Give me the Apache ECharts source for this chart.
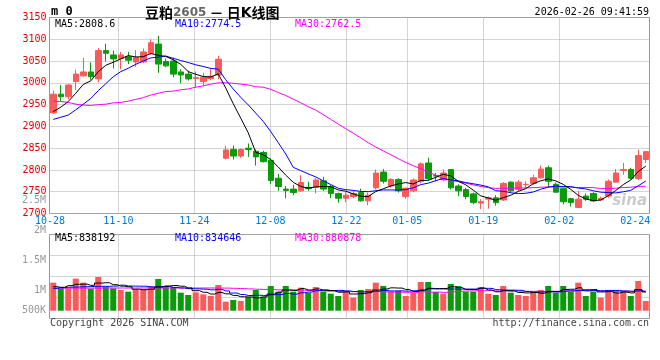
<!DOCTYPE html>
<html><head><meta charset="utf-8">
<script src="https://cdn.jsdelivr.net/npm/echarts@6/dist/echarts.min.js"></script>
<style>html,body{margin:0;padding:0;background:#fff}#c{width:660px;height:360px}</style>
</head><body><div id="c"></div>
<script>
const dates = ['10-28','10-29','10-30','10-31','11-03','11-04','11-05','11-06','11-07','11-10',
'11-11','11-12','11-13','11-14','11-17','11-18','11-19','11-20','11-21','11-24',
'11-25','11-26','11-27','11-28','12-01','12-02','12-03','12-04','12-05','12-08',
'12-09','12-10','12-11','12-12','12-15','12-16','12-17','12-18','12-19','12-22',
'12-23','12-24','12-25','12-26','12-29','12-30','12-31','01-05','01-06','01-07',
'01-08','01-09','01-12','01-13','01-14','01-15','01-16','01-19','01-20','01-21',
'01-22','01-23','01-26','01-27','01-28','01-29','01-30','02-02','02-03','02-04',
'02-05','02-06','02-09','02-10','02-11','02-12','02-13','02-24','02-25','02-26'];
const labelDates = ['10-28','11-10','11-24','12-08','12-22','01-05','01-19','02-02','02-24'];
const gridDates = ['11-10','11-24','12-08','12-22','01-05','01-19','02-02'];

const open = [2931,2974,2968,3003,3016,3025,3009,3074,3064,3056,
3060,3048,3048,3068,3089,3049,3050,3025,3020,3010,
3003,3010,3018,2827,2847,2832,2850,2843,2840,2822,
2781,2756,2756,2752,2760,2760,2775,2762,2746,2735,
2739,2748,2729,2759,2795,2763,2778,2739,2752,2774,
2816,2787,2777,2801,2763,2755,2745,2724,2733,2736,
2731,2772,2755,2766,2769,2782,2805,2767,2757,2734,
2714,2740,2746,2731,2740,2772,2799,2801,2780,2824];
const close = [2974,2968,2995,3020,3025,3014,3074,3068,3055,3064,
3052,3058,3071,3092,3043,3039,3020,3018,3009,3012,
3013,3015,3054,2846,2832,2847,2847,2830,2819,2776,
2762,2753,2748,2771,2757,2777,2756,2746,2735,2742,
2746,2729,2742,2793,2774,2778,2752,2758,2777,2814,
2780,2786,2793,2759,2752,2739,2725,2727,2736,2725,
2769,2752,2772,2767,2782,2802,2774,2749,2727,2725,
2733,2733,2729,2735,2774,2793,2801,2781,2833,2842];
const low = [2929,2958,2962,2983,3014,3007,3001,3049,3033,3031,
3043,3037,3045,3064,3023,3036,3013,2999,3005,2989,
2993,3006,3008,2824,2824,2828,2830,2810,2817,2768,
2752,2735,2742,2750,2752,2746,2752,2735,2725,2726,
2735,2727,2719,2755,2769,2759,2748,2734,2749,2769,
2776,2774,2774,2755,2740,2733,2721,2710,2711,2718,
2729,2749,2752,2759,2766,2780,2759,2748,2721,2716,
2713,2729,2727,2729,2736,2771,2789,2778,2777,2816];
const high = [2982,2995,2997,3030,3057,3047,3080,3090,3074,3071,
3071,3075,3079,3100,3108,3056,3058,3031,3028,3026,
3023,3033,3062,2855,2856,2849,2861,2847,2844,2827,
2791,2763,2766,2788,2773,2781,2784,2766,2748,2749,
2752,2757,2748,2801,2802,2781,2781,2760,2780,2817,
2828,2793,2801,2802,2767,2759,2748,2733,2739,2742,
2772,2774,2777,2774,2789,2810,2810,2771,2759,2736,
2752,2746,2749,2739,2778,2802,2816,2805,2846,2843];

const ma5 = [2934,2944,2957,2976,2996.4,3004.4,3025.6,3040.2,3047.2,3055,
3062.6,3059.4,3060,3067.4,3063.2,3060.6,3053,3042.4,3025.8,3019.6,
3014.4,3013.4,3020.6,2988,2952,2918.8,2885.2,2840.4,2835,2823.8,
2806.8,2788,2771.6,2762,2758.2,2761.2,2761.8,2761.4,2754.2,2751.2,
2745,2739.6,2738.8,2750.4,2756.8,2763.2,2767.8,2771,2767.8,2775.8,
2776.2,2783,2790,2786.4,2774,2765.8,2753.6,2740.4,2735.8,2730.4,
2736.4,2741.8,2750.8,2757,2768.4,2775,2779.4,2774.8,2766.8,2755.4,
2741.6,2733.4,2729.4,2731,2740.8,2752.8,2766.4,2776.8,2796.4,2808.6];
const ma10 = [2916,2921,2926,2938,2951,2964,2982,2998,3014,3025.7,
3033.5,3042.5,3050.1,3057.3,3059.1,3061.6,3056.2,3051.2,3046.6,3041.4,
3037.5,3033.2,3031.5,3006.9,2985.8,2966.6,2949.3,2930.5,2911.5,2887.9,
2862.8,2836.6,2806,2798.5,2791,2784,2774.9,2766.5,2758.1,2754.7,
2753.1,2750.7,2750.1,2752.3,2754,2754.1,2753.7,2754.9,2759.1,2766.3,
2769.7,2775.4,2780.5,2777.1,2774.9,2771,2768.3,2765.2,2761.1,2752.2,
2751.1,2747.7,2745.6,2746.4,2749.4,2755.7,2760.6,2762.8,2761.9,2761.9,
2758.3,2756.4,2752.1,2748.9,2748.1,2747.2,2749.9,2753.1,2763.7,2774.5];
const ma30 = [2958,2957,2955,2951,2949,2948,2950,2951,2954,2955,
2958,2962,2966,2972,2976,2980,2981,2984,2986,2990,
2993,2997,3000,3000,2999,2997,2995,2991,2990,2985,
2977.9,2970.8,2962.5,2954.2,2945.3,2937.4,2926.8,2916.1,2905.4,2894.7,
2884.5,2873.5,2862.5,2852.6,2843.6,2834.9,2826,2817.3,2809.6,2803,
2795.2,2787.6,2778.9,2776,2773.3,2769.7,2765.6,2762.2,2759.4,2757.7,
2758,2757.9,2758.7,2758.6,2759.4,2760.3,2760.9,2761,2760.7,2760.1,
2759.7,2759.8,2759.4,2757.5,2757.5,2758,2759.6,2760.4,2762.2,2762.5];

// volume in thousands
const vol = [1253,1000,1000,1432,1253,985,1506,1074,1000,925,
851,955,955,1104,1417,1089,1059,806,702,821,
732,657,1149,404,478,434,612,925,627,1104,
851,1104,851,1030,806,1059,851,761,657,881,
583,925,970,1253,1104,851,881,657,806,1283,
1283,836,761,1193,1104,851,851,1059,761,702,
1104,806,702,657,806,925,1104,806,1104,851,
1253,657,851,583,925,925,881,657,1328,434];
const vma5 = [1073,1046,1120,1180,1188,1134,1235,1250,1164,1098,
1071,961,937,958,1056,1104,1125,1095,1015,895,
824,744,812,753,684,624,615,571,615,740,
824,922,907,988,928,970,919,901,827,842,
747,761,803,922,967,1021,1012,949,860,896,
982,973,994,1071,1035,949,952,1012,925,845,
895,886,815,794,815,779,839,860,949,958,
1024,934,943,839,854,788,833,794,943,838.192];
const vma10 = [1000,1030,1050,1060,1070,1080,1090,1090,1100,1143,
1103,1098,1094,1061,1077,1088,1043,1016,986,976,
964,934,954,884,790,724,680,691,684,712,
724,769,739,802,834,897,921,904,907,885,
858,840,852,875,904,884,887,876,891,931,
1001,992,972,966,966,966,963,1003,998,940,
922,919,913,860,830,837,863,837,872,887,
901,887,901,894,906,906,884,869,891,834.646];
const vma30 = [1000,1005,1010,1010,1010,1010,1012,1015,1015,1015,
1015,1015,1015,1015,1015,1015,1015,1015,1015,1015,
1015,1015,1012,1010,1000,990,975,960,950,944,
930,934,929,915,900,903,881,871,859,858,
849,848,848,853,843,835,829,824,827,843,
826,832,819,846,866,880,888,893,897,884,
892,882,877,865,865,860,869,870,885,884,
907,898,894,871,865,868,868,868,885,880.878];

const volTickLabels = ['2.5M','2M','1.5M','1M','500K'];
const productName = '豆粕';
const contract = '2605';
const stamp = '2026-02-26 09:41:59';

const RED = '#fa5a5a', GREEN = '#0a9a0a';
const MONO = '"DejaVu Sans Mono", monospace';
const GRIDC = '#aaaaaa';
const dotted = {type:[1,1], color:GRIDC, width:1};

const last = a => a[a.length-1];
const fmtVol = v => String(Math.round(v*1000));

const candleData = dates.map((d,i)=>[open[i], close[i], low[i], high[i]]);
const volData = vol.map((v,i)=>({value:v, itemStyle:{color: close[i] >= open[i] ? RED : GREEN}}));

const isLabel = (i) => labelDates.indexOf(dates[i]) >= 0;
const isGrid = (i) => gridDates.indexOf(dates[i]) >= 0;

function txt(text, x, y, color, opts) {
  opts = opts || {};
  return {type:'text', z: 100, silent:true, style:{
    text, x, y, fill: color, font: opts.font || ('10px ' + MONO),
    textAlign: opts.align || 'left', align: opts.align || 'left',
    textVerticalAlign: 'middle', verticalAlign: 'middle'}};
}

const graphics = [
  txt('m 0', 51, 11.5, '#000', {font:'bold 12px ' + MONO}),
  txt(stamp, 649, 12, '#000', {align:'right'}),
  txt('MA5:' + last(ma5).toFixed(1), 55, 24, '#000'),
  txt('MA10:' + last(ma10).toFixed(1), 175, 24, '#0000ff'),
  txt('MA30:' + last(ma30).toFixed(1), 295, 24, '#ff00ff'),
  txt('MA5:' + fmtVol(last(vma5)), 55, 238.5, '#000'),
  txt('MA10:' + fmtVol(last(vma10)), 175, 238.5, '#0000ff'),
  txt('MA30:' + fmtVol(last(vma30)), 295, 238.5, '#ff00ff'),
  txt('Copyright 2026 SINA.COM', 50, 323.5, '#444'),
  txt('http://finance.sina.com.cn', 649, 323.5, '#444', {align:'right'}),
  txt('sina', 647, 201, 'rgba(185,185,185,0.75)', {align:'right', font:'italic bold 15px "DejaVu Sans", sans-serif'})
];
volTickLabels.forEach((t,k)=>{
  const y = k < volTickLabels.length-1 ? 200.7 + 29.8*k : 310.3;
  graphics.push(txt(t, 46, y, '#999', {align:'right'}));
});

const chart = echarts.init(document.getElementById('c'), null, {renderer:'canvas'});
chart.setOption({
  animation:false,
  backgroundColor:'#fff',
  title:{
    left:140, top:1,
    text:'{a|' + productName + '}{b|' + contract + '}{a| － 日}{k|K}{a|线图}',
    textStyle:{rich:{
      a:{fontSize:14, fontFamily:'"Noto Sans CJK SC"', color:'#000'},
      b:{fontSize:12, fontFamily:'"DejaVu Sans"', color:'#666'},
      k:{fontSize:14, fontWeight:'bold', fontFamily:'"DejaVu Sans"', color:'#000'}
    }}
  },
  grid:[
    {left:49.5, top:17.5, width:600, height:196, show:true, borderColor:'#999', borderWidth:1, outerBoundsMode:'none'},
    {left:49.5, top:234.5, width:600, height:76.2, outerBoundsMode:'none'},
    {left:50, top:17.5, width:600.4, height:196, outerBoundsMode:'none'},
    {left:49.5, top:234.5, width:600, height:84, show:true, borderColor:'#999', borderWidth:1, outerBoundsMode:'none'},
    {left:50, top:234.5, width:600.4, height:84, outerBoundsMode:'none'}
  ],
  xAxis:[
    {gridIndex:0, type:'category', data:dates, show:false},
    {gridIndex:1, type:'category', data:dates, show:false},
    {gridIndex:2, type:'category', data:dates, boundaryGap:false,
      axisLine:{show:false}, axisTick:{show:false},
      axisLabel:{interval:(i)=>isLabel(i), color:'#0078d7', fontSize:10, fontFamily:MONO, margin:3, hideOverlap:false},
      splitLine:{show:true, interval:(i)=>isGrid(i), lineStyle:dotted}},
    {gridIndex:3, type:'value', show:false, min:0, max:1},
    {gridIndex:4, type:'category', data:dates, boundaryGap:false,
      axisLine:{show:false}, axisTick:{show:false}, axisLabel:{show:false},
      splitLine:{show:true, interval:(i)=>isGrid(i), lineStyle:dotted}}
  ],
  yAxis:[
    {gridIndex:0, type:'value', min:2700, max:3150, interval:50,
      axisLine:{show:false}, axisTick:{show:false},
      axisLabel:{color:'#e00000', fontSize:10, fontFamily:MONO, margin:3, padding:[0,0,3,0], formatter:(v)=>String(v)},
      splitLine:{show:true, lineStyle:dotted}},
    {gridIndex:1, type:'value', min:0, max:3406, show:false},
    {gridIndex:2, type:'value', show:false},
    {gridIndex:3, type:'value', min:0, max:4, interval:1,
      axisLine:{show:false}, axisTick:{show:false}, axisLabel:{show:false},
      splitLine:{show:true, lineStyle:dotted}},
    {gridIndex:4, type:'value', show:false}
  ],
  series:[
    {type:'candlestick', xAxisIndex:0, yAxisIndex:0, data:candleData, barWidth:6,
      itemStyle:{color:RED, color0:GREEN, borderColor:RED, borderColor0:GREEN, borderWidth:1}},
    {type:'line', xAxisIndex:0, yAxisIndex:0, data:ma30, showSymbol:false, symbol:'none', lineStyle:{color:'#ff00ff', width:1}},
    {type:'line', xAxisIndex:0, yAxisIndex:0, data:ma10, showSymbol:false, symbol:'none', lineStyle:{color:'#0000ff', width:1}},
    {type:'line', xAxisIndex:0, yAxisIndex:0, data:ma5, showSymbol:false, symbol:'none', lineStyle:{color:'#000000', width:1}},
    {type:'bar', xAxisIndex:1, yAxisIndex:1, data:volData, barWidth:6},
    {type:'line', xAxisIndex:1, yAxisIndex:1, data:vma30, step:'middle', showSymbol:false, symbol:'none', lineStyle:{color:'#ff00ff', width:1}},
    {type:'line', xAxisIndex:1, yAxisIndex:1, data:vma10, step:'middle', showSymbol:false, symbol:'none', lineStyle:{color:'#0000ff', width:1}},
    {type:'line', xAxisIndex:1, yAxisIndex:1, data:vma5, step:'middle', showSymbol:false, symbol:'none', lineStyle:{color:'#000000', width:1}}
  ],
  graphic: graphics
});
</script></body></html>
